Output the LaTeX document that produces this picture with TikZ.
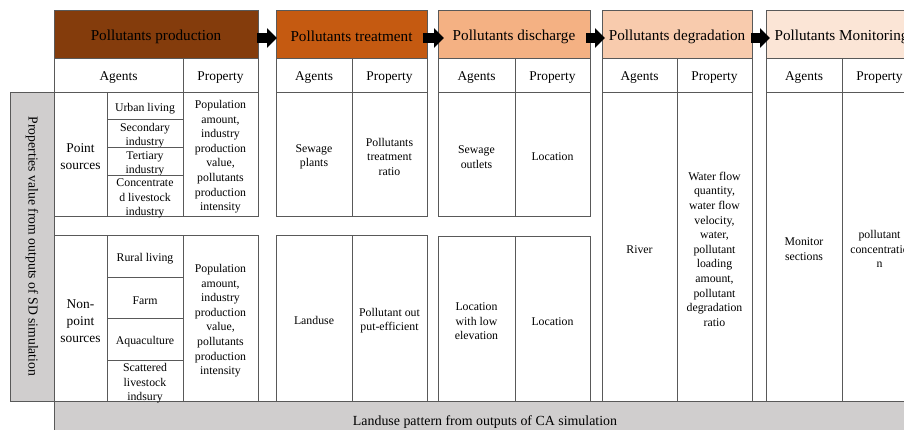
\documentclass[tikz,border=0pt]{standalone}
\usepackage{fontspec}
\setmainfont{Liberation Serif}
\usetikzlibrary{arrows.meta}
\definecolor{cprod}{RGB}{132,60,12}
\definecolor{ctreat}{RGB}{197,90,17}
\definecolor{cdisc}{RGB}{244,177,131}
\definecolor{cdegr}{RGB}{248,203,173}
\definecolor{cmoni}{RGB}{251,229,214}
\definecolor{cgrey}{RGB}{208,206,206}
\tikzset{
  cell/.style={draw=black!65, line width=0.9pt, inner xsep=0pt, inner ysep=-8pt, outer sep=0pt,
    anchor=north west, align=center, font=\fontsize{11.8}{14.6}\selectfont},
  hdr/.style={font=\fontsize{15.2}{18}\selectfont},
  subhd/.style={font=\fontsize{13.4}{16.8}\selectfont},
  flow/.style={line width=10pt, line cap=butt, -{Triangle[length=10pt,width=19pt]}}
}
\newcommand\cellbox[7][]{\node[cell,#1,minimum width=#5pt-#3pt,minimum height=#6pt-#4pt] (#2) at (#3pt,-#4pt) {\rule{0pt}{\dimexpr0.683em+5.5pt\relax}#7};}
\begin{document}
\begin{tikzpicture}
\useasboundingbox (0,0) rectangle (904pt,-430pt);
\clip (0,0) rectangle (904pt,-430pt);
% grey bars
\cellbox[fill=cgrey,font=\fontsize{13.9}{16}\selectfont]{bb}{54}{401}{916}{437}{Landuse pattern from outputs of CA simulation}
\node[cell, inner ysep=0pt, anchor=center, fill=cgrey, rotate=-90, minimum width=309pt, minimum height=44pt,
  font=\fontsize{13.7}{16}\selectfont] (lb) at (32pt,-246.5pt) {Properties value from outputs of SD simulation};
% column 1
\cellbox[hdr,fill=cprod]{h1}{54}{10}{258}{58}{Pollutants production}
\cellbox[subhd]{a1}{54}{58}{183}{92}{Agents}
\cellbox[subhd]{p1}{183}{58}{258}{92}{Property}
\cellbox[subhd]{ps}{54}{92}{107}{216}{Point\\sources}
\cellbox{ul}{107}{92}{183}{119}{Urban living}
\cellbox{si}{107}{119}{183}{147}{Secondary\\industry}
\cellbox{ti}{107}{147}{183}{175}{Tertiary\\industry}
\cellbox{cl}{107}{175}{183}{216}{Concentrate\\d livestock\\industry}
\cellbox{pp1}{183}{92}{258}{216}{Population\\amount,\\industry\\production\\value,\\pollutants\\production\\intensity}
\cellbox[subhd]{nps}{54}{235}{107}{401}{Non-\\point\\sources}
\cellbox{rl}{107}{235}{183}{277}{Rural living}
\cellbox{fm}{107}{277}{183}{318}{Farm}
\cellbox{aq}{107}{318}{183}{360}{Aquaculture}
\cellbox{sl}{107}{360}{183}{401}{Scattered\\livestock\\indsury}
\cellbox{pp2}{183}{235}{258}{401}{Population\\amount,\\industry\\production\\value,\\pollutants\\production\\intensity}
% column 2
\cellbox[hdr,fill=ctreat]{h2}{276}{10}{427}{58}{Pollutants treatment}
\cellbox[subhd]{a2}{276}{58}{352}{92}{Agents}
\cellbox[subhd]{p2}{352}{58}{427}{92}{Property}
\cellbox{sp}{276}{92}{352}{216}{Sewage\\plants}
\cellbox{ptr}{352}{92}{427}{216}{Pollutants\\treatment\\ratio}
\cellbox{lu}{276}{235}{352}{401}{Landuse}
\cellbox{poe}{352}{235}{427}{401}{Pollutant out\\put-efficient}
% column 3
\cellbox[hdr,fill=cdisc]{h3}{438}{10}{590}{58}{Pollutants discharge}
\cellbox[subhd]{a3}{438}{58}{515}{92}{Agents}
\cellbox[subhd]{p3}{515}{58}{590}{92}{Property}
\cellbox{so}{438}{92}{515}{216}{Sewage\\outlets}
\cellbox{lo1}{515}{92}{590}{216}{Location}
\cellbox{lle}{438}{236}{515}{401}{Location\\with low\\elevation}
\cellbox{lo2}{515}{236}{590}{401}{Location}
% column 4
\cellbox[hdr,fill=cdegr]{h4}{602}{10}{752}{58}{Pollutants degradation}
\cellbox[subhd]{a4}{602}{58}{677}{92}{Agents}
\cellbox[subhd]{p4}{677}{58}{752}{92}{Property}
\cellbox{rv}{602}{92}{677}{401}{River}
\cellbox{dp}{677}{92}{752}{401}{Water flow\\quantity,\\water flow\\velocity,\\water,\\pollutant\\loading\\amount,\\pollutant\\degradation\\ratio}
% column 5
\cellbox[hdr,fill=cmoni]{h5}{766}{10}{917}{58}{Pollutants Monitoring}
\cellbox[subhd]{a5}{766}{58}{842}{92}{Agents}
\cellbox[subhd]{p5}{842}{58}{917}{92}{Property}
\cellbox{ms}{766}{92}{842}{401}{Monitor\\sections}
\cellbox{pc}{842}{92}{917}{401}{pollutant\\concentratio\\n}
% arrows
\draw[flow] ([xshift=-1pt,yshift=-4pt]h1.east) -- ([xshift=1pt,yshift=-4pt]h2.west);
\draw[flow] ([xshift=-4pt,yshift=-4pt]h2.east) -- ([xshift=6pt,yshift=-4pt]h3.west);
\draw[flow] ([xshift=-4pt,yshift=-4pt]h3.east) -- ([xshift=3pt,yshift=-4pt]h4.west);
\draw[flow] ([xshift=-1pt,yshift=-4pt]h4.east) -- ([xshift=4pt,yshift=-4pt]h5.west);
\end{tikzpicture}
\end{document}
